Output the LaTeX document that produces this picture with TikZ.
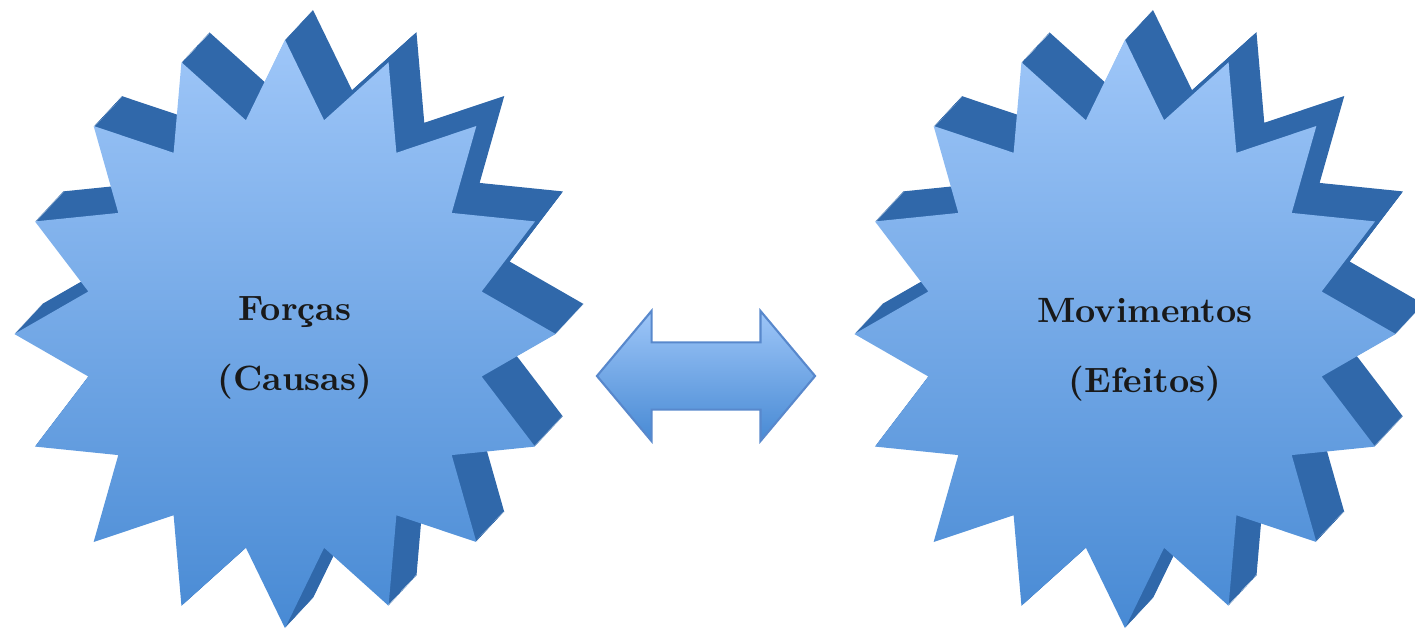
\documentclass[tikz,border=0pt]{standalone}
\usepackage{xcolor}
\usepackage{tikz}
\usetikzlibrary{shapes,arrows,positioning,calc,shapes.geometric,shapes.arrows}
\definecolor{startop}{RGB}{158,198,248}
\definecolor{starbot}{RGB}{72,138,212}
\definecolor{starside}{RGB}{48,104,170}
\definecolor{arrowline}{RGB}{88,136,204}

\begin{document}
\begin{tikzpicture}[x=0.01cm, y=-0.01cm,
        starback/.style={star, star points=16, star point ratio=1.35, minimum size=5.88cm, inner sep=0pt, xscale=0.92, transform shape, draw=none, fill=starside},
        starfront/.style={star, star points=16, star point ratio=1.35, minimum size=5.88cm, inner sep=0pt, xscale=0.92, transform shape, draw=none, top color=startop, bottom color=starbot},
        label/.style={font=\bfseries, align=center, text=black!90},
        dblarrow/.style={double arrow, double arrow head extend=0.315cm, double arrow tip angle=100, minimum height=2.18cm, inner xsep=0pt, inner ysep=0.325cm, draw=arrowline, line width=0.6pt, top color=startop, bottom color=starbot},
      ]
      \useasboundingbox (0,0) rectangle (1415,630);
      % Left star (causes)
      \foreach \k in {30,29,...,1}
        \node [starback] (lback\k) at (285+0.93*\k, 334-\k) {};
      \node [starfront] (forcas) at (285, 334) {};
      \node [label] (forcastext) at (295, 348) {Forças\\[8pt](Causas)};
      % Right star (effects)
      \foreach \k in {30,29,...,1}
        \node [starback] (rback\k) at (1125+0.93*\k, 334-\k) {};
      \node [starfront] (movim) at (1125, 334) {};
      \node [label] (movimtext) at (1145, 350) {Movimentos\\[8pt](Efeitos)};
      % Double arrow between them
      \node [dblarrow] (relacao) at (706, 376) {};
    \end{tikzpicture}
\end{document}
